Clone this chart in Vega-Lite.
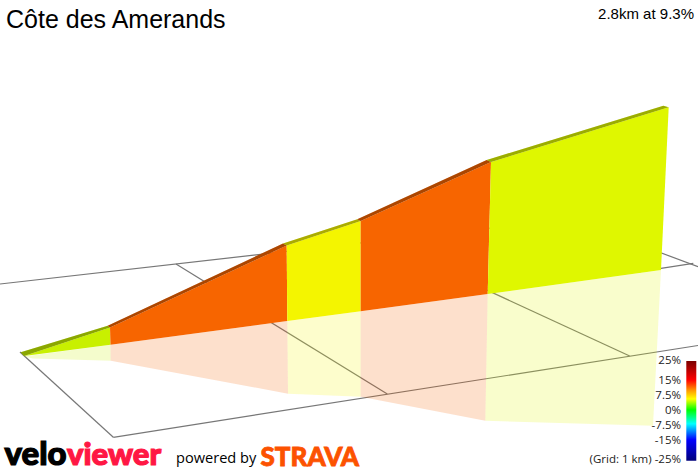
{
  "$schema": "https://vega.github.io/schema/vega-lite/v6.json",
  "autosize": "none",
  "padding": 0,
  "width": 698,
  "height": 468,
  "background": "white",
  "view": {"stroke": null},
  "datasets": {
    "profile": [
      {"seg": 1, "grade": 6, "part": "wall", "pt": 1, "x": 24, "y": 356},
      {"seg": 1, "grade": 6, "part": "wall", "pt": 2, "x": 110, "y": 327.5},
      {"seg": 1, "grade": 6, "part": "wall", "pt": 3, "x": 110.5, "y": 344.7},
      {"seg": 1, "grade": 6, "part": "top", "pt": 1, "x": 20.7, "y": 352.3},
      {"seg": 1, "grade": 6, "part": "top", "pt": 2, "x": 107.7, "y": 325.7},
      {"seg": 1, "grade": 6, "part": "top", "pt": 3, "x": 110, "y": 327.5},
      {"seg": 1, "grade": 6, "part": "top", "pt": 4, "x": 24, "y": 356},
      {"seg": 1, "grade": 6, "part": "shadow", "pt": 1, "x": 24, "y": 356.5},
      {"seg": 1, "grade": 6, "part": "shadow", "pt": 2, "x": 110.5, "y": 344.7},
      {"seg": 1, "grade": 6, "part": "shadow", "pt": 3, "x": 110.7, "y": 360.7},
      {"seg": 1, "grade": 6, "part": "shadow", "pt": 4, "x": 33, "y": 358.5},
      {"seg": 2, "grade": 13, "part": "wall", "pt": 1, "x": 110, "y": 327.5},
      {"seg": 2, "grade": 13, "part": "wall", "pt": 2, "x": 286.7, "y": 245.5},
      {"seg": 2, "grade": 13, "part": "wall", "pt": 3, "x": 287.3, "y": 321},
      {"seg": 2, "grade": 13, "part": "wall", "pt": 4, "x": 110.5, "y": 344.7},
      {"seg": 2, "grade": 13, "part": "top", "pt": 1, "x": 107.7, "y": 325.7},
      {"seg": 2, "grade": 13, "part": "top", "pt": 2, "x": 283, "y": 243.5},
      {"seg": 2, "grade": 13, "part": "top", "pt": 3, "x": 286.7, "y": 245.5},
      {"seg": 2, "grade": 13, "part": "top", "pt": 4, "x": 110, "y": 327.5},
      {"seg": 2, "grade": 13, "part": "shadow", "pt": 1, "x": 110.5, "y": 344.7},
      {"seg": 2, "grade": 13, "part": "shadow", "pt": 2, "x": 287.3, "y": 321},
      {"seg": 2, "grade": 13, "part": "shadow", "pt": 3, "x": 288, "y": 393.7},
      {"seg": 2, "grade": 13, "part": "shadow", "pt": 4, "x": 110.7, "y": 360.7},
      {"seg": 3, "grade": 8, "part": "wall", "pt": 1, "x": 286.7, "y": 245.5},
      {"seg": 3, "grade": 8, "part": "wall", "pt": 2, "x": 360.7, "y": 221},
      {"seg": 3, "grade": 8, "part": "wall", "pt": 3, "x": 360.7, "y": 311.3},
      {"seg": 3, "grade": 8, "part": "wall", "pt": 4, "x": 287.3, "y": 321},
      {"seg": 3, "grade": 8, "part": "top", "pt": 1, "x": 283, "y": 243.5},
      {"seg": 3, "grade": 8, "part": "top", "pt": 2, "x": 357.3, "y": 219.3},
      {"seg": 3, "grade": 8, "part": "top", "pt": 3, "x": 360.7, "y": 221},
      {"seg": 3, "grade": 8, "part": "top", "pt": 4, "x": 286.7, "y": 245.5},
      {"seg": 3, "grade": 8, "part": "shadow", "pt": 1, "x": 287.3, "y": 321},
      {"seg": 3, "grade": 8, "part": "shadow", "pt": 2, "x": 360.7, "y": 311.3},
      {"seg": 3, "grade": 8, "part": "shadow", "pt": 3, "x": 360.7, "y": 396.7},
      {"seg": 3, "grade": 8, "part": "shadow", "pt": 4, "x": 288, "y": 393.7},
      {"seg": 4, "grade": 13, "part": "wall", "pt": 1, "x": 360.7, "y": 221},
      {"seg": 4, "grade": 13, "part": "wall", "pt": 2, "x": 491, "y": 162},
      {"seg": 4, "grade": 13, "part": "wall", "pt": 3, "x": 487.7, "y": 294},
      {"seg": 4, "grade": 13, "part": "wall", "pt": 4, "x": 360.7, "y": 311.3},
      {"seg": 4, "grade": 13, "part": "top", "pt": 1, "x": 357.3, "y": 219.3},
      {"seg": 4, "grade": 13, "part": "top", "pt": 2, "x": 486.7, "y": 160},
      {"seg": 4, "grade": 13, "part": "top", "pt": 3, "x": 491, "y": 162},
      {"seg": 4, "grade": 13, "part": "top", "pt": 4, "x": 360.7, "y": 221},
      {"seg": 4, "grade": 13, "part": "shadow", "pt": 1, "x": 360.7, "y": 311.3},
      {"seg": 4, "grade": 13, "part": "shadow", "pt": 2, "x": 487.7, "y": 294},
      {"seg": 4, "grade": 13, "part": "shadow", "pt": 3, "x": 485.3, "y": 420.7},
      {"seg": 4, "grade": 13, "part": "shadow", "pt": 4, "x": 360.7, "y": 396.7},
      {"seg": 5, "grade": 7, "part": "wall", "pt": 1, "x": 491, "y": 162},
      {"seg": 5, "grade": 7, "part": "wall", "pt": 2, "x": 668.7, "y": 107.3},
      {"seg": 5, "grade": 7, "part": "wall", "pt": 3, "x": 661, "y": 270},
      {"seg": 5, "grade": 7, "part": "wall", "pt": 4, "x": 487.7, "y": 294},
      {"seg": 5, "grade": 7, "part": "top", "pt": 1, "x": 486.7, "y": 160},
      {"seg": 5, "grade": 7, "part": "top", "pt": 2, "x": 663.3, "y": 105.7},
      {"seg": 5, "grade": 7, "part": "top", "pt": 3, "x": 668.7, "y": 107.3},
      {"seg": 5, "grade": 7, "part": "top", "pt": 4, "x": 491, "y": 162},
      {"seg": 5, "grade": 7, "part": "shadow", "pt": 1, "x": 487.7, "y": 294},
      {"seg": 5, "grade": 7, "part": "shadow", "pt": 2, "x": 661, "y": 270},
      {"seg": 5, "grade": 7, "part": "shadow", "pt": 3, "x": 653, "y": 425.7},
      {"seg": 5, "grade": 7, "part": "shadow", "pt": 4, "x": 485.3, "y": 420.7}
    ],
    "grid": [
      {"x": 20, "y": 352, "x2": 113.3, "y2": 437.3},
      {"x": 113.3, "y": 437.3, "x2": 698, "y2": 345.5},
      {"x": 0, "y": 284, "x2": 500, "y2": 227},
      {"x": 176, "y": 264, "x2": 387.3, "y2": 394},
      {"x": 400, "y": 250, "x2": 629.7, "y2": 356},
      {"x": 600, "y": 230, "x2": 698, "y2": 266.7},
      {"x": 640, "y": 271.6, "x2": 693.3, "y2": 263.3}
    ],
    "scale": [
      {"label": "25%", "y": 361},
      {"label": "15%", "y": 381},
      {"label": "7.5%", "y": 396},
      {"label": "0%", "y": 410.5},
      {"label": "-7.5%", "y": 425.5},
      {"label": "-15%", "y": 440.5},
      {"label": "(Grid: 1 km) -25%", "y": 459.5}
    ]
  },
  "layer": [
    {
      "data": {"name": "grid"},
      "mark": {"type": "rule", "color": "#777777", "strokeWidth": 1.2},
      "encoding": {
        "x": {"field": "x", "type": "quantitative", "scale": {"domain": [0, 698], "nice": false, "zero": false}, "axis": null},
        "y": {"field": "y", "type": "quantitative", "scale": {"domain": [468, 0], "nice": false, "zero": false}, "axis": null},
        "x2": {"field": "x2"},
        "y2": {"field": "y2"}
      }
    },
    {
      "data": {"name": "profile"},
      "transform": [{"filter": "datum.part == 'shadow'"}],
      "mark": {"type": "line", "filled": true, "opacity": 0.2, "strokeWidth": 0},
      "encoding": {
        "x": {"field": "x", "type": "quantitative"},
        "y": {"field": "y", "type": "quantitative"},
        "detail": {"field": "seg"},
        "order": {"field": "pt"},
        "color": {"field": "grade", "type": "ordinal", "legend": null, "scale": {"domain": [6, 7, 8, 13], "range": ["#c8f000", "#dff700", "#f4f500", "#f76500"]}}
      }
    },
    {
      "data": {"name": "profile"},
      "transform": [{"filter": "datum.part != 'shadow'"}],
      "mark": {"type": "line", "filled": true, "strokeWidth": 0},
      "encoding": {
        "x": {"field": "x", "type": "quantitative"},
        "y": {"field": "y", "type": "quantitative"},
        "detail": [{"field": "seg"}, {"field": "part"}],
        "order": {"field": "pt"},
        "color": {"field": "grade", "type": "ordinal", "legend": null}
      }
    },
    {
      "data": {"name": "profile"},
      "transform": [{"filter": "datum.part == 'top'"}],
      "mark": {"type": "line", "filled": true, "strokeWidth": 0, "color": "black", "opacity": 0.3},
      "encoding": {
        "x": {"field": "x", "type": "quantitative"},
        "y": {"field": "y", "type": "quantitative"},
        "detail": {"field": "seg"},
        "order": {"field": "pt"}
      }
    },
    {
      "data": {"values": [{"x": 686.3, "x2": 696.3, "y": 361, "y2": 460.7}]},
      "mark": {
        "type": "rect",
        "color": {
          "gradient": "linear", "x1": 0, "y1": 0, "x2": 0, "y2": 1,
          "stops": [
            {"offset": 0, "color": "#7a0000"},
            {"offset": 0.19, "color": "#ff0000"},
            {"offset": 0.3, "color": "#ffa000"},
            {"offset": 0.38, "color": "#ffff00"},
            {"offset": 0.49, "color": "#00ff00"},
            {"offset": 0.63, "color": "#00ffff"},
            {"offset": 0.79, "color": "#0000ff"},
            {"offset": 1, "color": "#00007a"}
          ]
        }
      },
      "encoding": {
        "x": {"field": "x", "type": "quantitative"},
        "y": {"field": "y", "type": "quantitative"},
        "x2": {"field": "x2"},
        "y2": {"field": "y2"}
      }
    },
    {
      "data": {"name": "scale"},
      "mark": {"type": "text", "align": "right", "baseline": "middle", "font": "Open Sans", "fontSize": 11.5, "color": "#222222"},
      "encoding": {
        "x": {"datum": 681, "type": "quantitative"},
        "y": {"field": "y", "type": "quantitative"},
        "text": {"field": "label", "type": "nominal"}
      }
    },
    {
      "data": {"values": [{"label": "Côte des Amerands"}]},
      "mark": {"type": "text", "align": "left", "baseline": "middle", "font": "Liberation Sans", "fontSize": 25, "color": "black"},
      "encoding": {"x": {"datum": 6, "type": "quantitative"}, "y": {"datum": 20, "type": "quantitative"}, "text": {"field": "label", "type": "nominal"}}
    },
    {
      "data": {"values": [{"label": "2.8km at 9.3%"}]},
      "mark": {"type": "text", "align": "right", "baseline": "middle", "font": "Liberation Sans", "fontSize": 15, "color": "black"},
      "encoding": {"x": {"datum": 694, "type": "quantitative"}, "y": {"datum": 14, "type": "quantitative"}, "text": {"field": "label", "type": "nominal"}}
    },
    {
      "data": {"values": [{"label": "velo"}]},
      "mark": {"type": "text", "align": "left", "baseline": "alphabetic", "font": "Lato", "fontWeight": 900, "fontSize": 33, "color": "black", "stroke": "black", "strokeWidth": 1.2},
      "encoding": {"x": {"datum": 4.5, "type": "quantitative"}, "y": {"datum": 465, "type": "quantitative"}, "text": {"field": "label", "type": "nominal"}}
    },
    {
      "data": {"values": [{"label": "viewer"}]},
      "mark": {"type": "text", "align": "left", "baseline": "alphabetic", "font": "Lato", "fontWeight": 900, "fontSize": 31, "color": "#ff1744", "stroke": "#ff1744", "strokeWidth": 1.2},
      "encoding": {"x": {"datum": 67, "type": "quantitative"}, "y": {"datum": 465, "type": "quantitative"}, "text": {"field": "label", "type": "nominal"}}
    },
    {
      "data": {"values": [{"label": "powered by"}]},
      "mark": {"type": "text", "align": "left", "baseline": "alphabetic", "font": "Open Sans", "fontSize": 14.6, "color": "black"},
      "encoding": {"x": {"datum": 176, "type": "quantitative"}, "y": {"datum": 463, "type": "quantitative"}, "text": {"field": "label", "type": "nominal"}}
    },
    {
      "data": {"values": [{"label": "STRAVA"}]},
      "mark": {"type": "text", "align": "left", "baseline": "alphabetic", "font": "Lato", "fontWeight": 900, "fontSize": 26, "color": "#fc5200", "stroke": "#fc5200", "strokeWidth": 0.8},
      "encoding": {"x": {"datum": 260.5, "type": "quantitative"}, "y": {"datum": 465.5, "type": "quantitative"}, "text": {"field": "label", "type": "nominal"}}
    }
  ]
}
